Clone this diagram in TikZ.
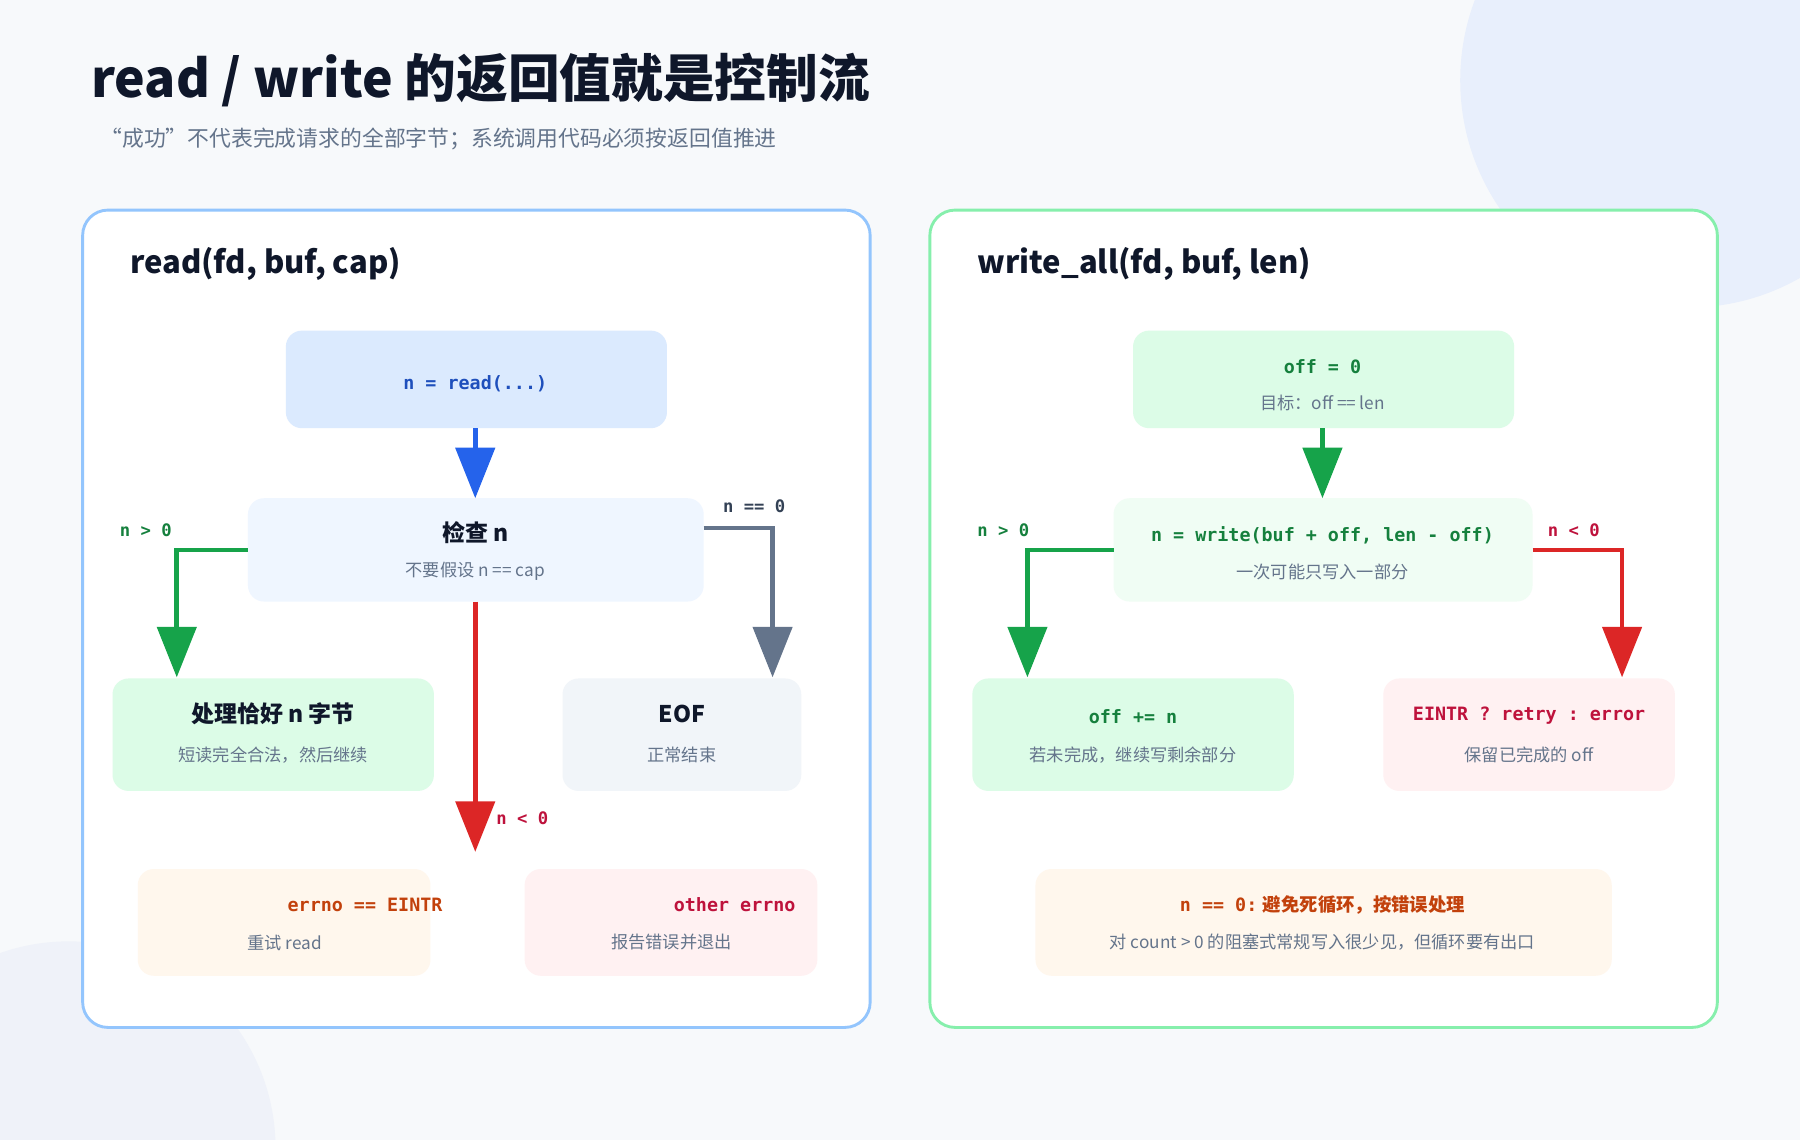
\documentclass[tikz,border=0pt]{standalone}
\usepackage{fontspec}
\setmainfont{Noto Sans CJK SC}
\setmonofont{DejaVu Sans Mono}
\usetikzlibrary{arrows.meta}
\definecolor{bg}{HTML}{F7F9FB}
\definecolor{ink}{HTML}{0F172A}
\definecolor{gray1}{HTML}{64748B}
\definecolor{slate}{HTML}{334155}
\definecolor{blueA}{HTML}{2563EB}
\definecolor{greenA}{HTML}{16A34A}
\definecolor{greenT}{HTML}{15803D}
\definecolor{redA}{HTML}{DC2626}
\definecolor{redT}{HTML}{BE123C}
\definecolor{orT}{HTML}{C2410C}
\definecolor{grayA}{HTML}{64748B}
\definecolor{blueF}{HTML}{DBEAFE}
\definecolor{blueF2}{HTML}{EFF6FF}
\definecolor{greenF}{HTML}{DCFCE7}
\definecolor{greenF2}{HTML}{F0FDF4}
\definecolor{slateF}{HTML}{F1F5F9}
\definecolor{orF}{HTML}{FFF7ED}
\definecolor{redF}{HTML}{FFF1F2}
\definecolor{blueB}{HTML}{93C5FD}
\definecolor{greenB}{HTML}{86EFAC}
\definecolor{circ1}{HTML}{E8EFFC}
\definecolor{circ2}{HTML}{EFF2F9}
\tikzset{
 x=1pt,y=-1pt,
 box/.style={rounded corners=14pt,draw=none},
 ttl/.style={font=\bfseries\fontsize{20}{24}\selectfont,text=ink},
 mono/.style={font=\ttfamily\bfseries\fontsize{16}{19}\selectfont},
 sub/.style={font=\fontsize{15}{18}\selectfont,text=gray1},
 arr/.style={line width=4pt,-{Triangle[length=44pt,width=34pt]}},
 lab/.style={font=\ttfamily\bfseries\fontsize{15}{18}\selectfont}
}
\begin{document}
\begin{tikzpicture}
\fill[bg] (0,0) rectangle (1568,993);
\useasboundingbox (0,0) rectangle (1568,993);
\begin{scope}
\clip (0,0) rectangle (1568,993);
\fill[circ1] (1470,70) circle[radius=198];
\fill[circ2] (60,1000) circle[radius=180];
\end{scope}
\node[anchor=west,font=\bfseries\fontsize{45}{52}\selectfont,text=ink] (title) at (76,70) {read / write 的返回值就是控制流};
\node[anchor=west,font=\fontsize{19}{23}\selectfont,text=gray1] (subt) at (84,121) {“成功”不代表完成请求的全部字节；系统调用代码必须按返回值推进};
% panels
\draw[draw=blueB,line width=2.5pt,fill=white,rounded corners=22pt] (72,183) rectangle (758,895);
\draw[draw=greenB,line width=2.5pt,fill=white,rounded corners=22pt] (810,183) rectangle (1496,895);
\node[anchor=west,font=\bfseries\fontsize{27}{32}\selectfont,text=ink] (pt1) at (110,230) {read(fd, buf, cap)};
\node[anchor=west,font=\bfseries\fontsize{27}{32}\selectfont,text=ink] (pt2) at (848,230) {write\_all(fd, buf, len)};
% left boxes
\fill[box,fill=blueF] (249,288) rectangle (581,373);
\node[mono,text=blueA!80!black] (rd) at (414,334) {n = read(...)};
\coordinate (rdb) at (414,373);
\fill[box,fill=blueF2] (216,434) rectangle (613,524);
\node[ttl] (chk) at (414,464) {检查 n};
\node[sub] at (414,498) {不要假设 n == cap};
\coordinate (chkt) at (414,434); \coordinate (chkl) at (216,479); \coordinate (chkr) at (613,460); \coordinate (chkb) at (414,524);
\fill[box,fill=greenF] (98,591) rectangle (378,689);
\node[ttl] (proc) at (238,622) {处理恰好 n 字节};
\node[sub] at (238,658) {短读完全合法，然后继续};
\fill[box,fill=slateF] (490,591) rectangle (698,689);
\node[ttl] (eof) at (594,622) {EOF};
\node[sub] at (594,658) {正常结束};
\fill[box,fill=orF] (120,757) rectangle (375,850);
\node[mono,text=orT] (eintr) at (318,788) {errno == EINTR};
\node[sub] at (248,821) {重试 read};
\fill[box,fill=redF] (457,757) rectangle (712,850);
\node[mono,text=redT] (oth) at (640,788) {other errno};
\node[sub] at (585,821) {报告错误并退出};
\coordinate (p1) at (154,479); \coordinate (p1e) at (154,590);
\coordinate (p2) at (673,460); \coordinate (p2e) at (673,590);
\coordinate (p3e) at (414,742);
\draw[arr,blueA] (rdb) -- (chkt);
\draw[arr,greenA] (chkl) -- (p1) -- (p1e);
\draw[arr,grayA] (chkr) -- (p2) -- (p2e);
\draw[arr,redA] (chkb) -- (p3e);
\node[lab,text=greenT] at (127,462) {n > 0};
\node[lab,text=slate] at (657,441) {n == 0};
\node[lab,text=redT] at (455,713) {n < 0};
% right boxes
\fill[box,fill=greenF] (987,288) rectangle (1319,373);
\node[mono,text=greenT] (off0) at (1152,319) {off = 0};
\node[sub] at (1152,351) {目标：off == len};
\coordinate (off0b) at (1152,373);
\fill[box,fill=greenF2] (970,434) rectangle (1335,524);
\node[mono,text=greenT] (wr) at (1152,466) {n = write(buf + off, len - off)};
\node[sub] at (1152,498) {一次可能只写入一部分};
\coordinate (wrt) at (1152,434); \coordinate (wrl) at (970,479); \coordinate (wrr) at (1335,479);
\fill[box,fill=greenF] (847,591) rectangle (1127,689);
\node[mono,text=greenT] (offn) at (987,624) {off += n};
\node[sub] at (987,658) {若未完成，继续写剩余部分};
\fill[box,fill=redF] (1205,591) rectangle (1459,689);
\node[mono,text=redT] (err) at (1332,623) {EINTR ? retry : error};
\node[sub] at (1332,658) {保留已完成的 off};
\fill[box,fill=orF] (902,757) rectangle (1404,850);
\node[text=orT,font=\bfseries\fontsize{16}{19}\selectfont] (n0) at (1152,788) {\texttt{n == 0:} 避免死循环，按错误处理};
\node[sub] at (1152,821) {对 count > 0 的阻塞式常规写入很少见，但循环要有出口};
\coordinate (q1) at (895,479); \coordinate (q1e) at (895,590);
\coordinate (q2) at (1413,479); \coordinate (q2e) at (1413,590);
\draw[arr,greenA] (off0b) -- (wrt);
\draw[arr,greenA] (wrl) -- (q1) -- (q1e);
\draw[arr,redA] (wrr) -- (q2) -- (q2e);
\node[lab,text=greenT] at (874,462) {n > 0};
\node[lab,text=redT] at (1371,462) {n < 0};
\end{tikzpicture}
\end{document}
